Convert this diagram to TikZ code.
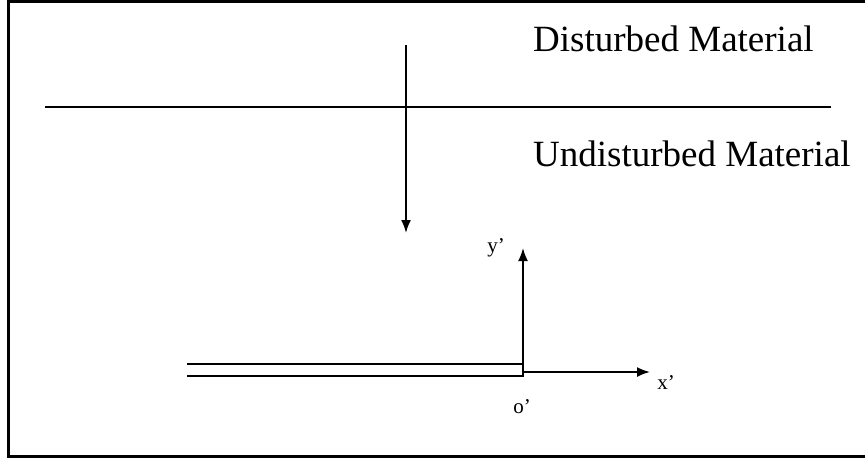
\documentclass[tikz,border=0pt]{standalone}
\usepackage{fontspec}
\setmainfont{Liberation Serif}
\usetikzlibrary{arrows.meta}
\begin{document}
\begin{tikzpicture}[x=1pt,y=-1pt,
  line/.style={line width=2pt,black},
  arr/.style={line width=1.8pt,-{Latex[length=13pt,width=10pt]}},
  big/.style={font=\fontsize{37}{44}\selectfont,inner sep=0pt,anchor=base west},
  small/.style={font=\fontsize{21}{25}\selectfont,inner sep=0pt}]
\useasboundingbox (0,0) rectangle (865,458);
% frame (right side outside image)
\draw[line width=3pt] (865,1.5) -- (8.5,1.5) -- (8.5,456.5) -- (865,456.5);
% interface
\coordinate (il) at (45,107);
\coordinate (ir) at (831,107);
\draw[line] (il) -- (ir);
\node[big] (dist) at (533,51) {Disturbed Material};
\node[big] (undist) at (533,166) {Undisturbed Material};
% downward arrow
\coordinate (a1) at (406,45);
\coordinate (a2) at (406,233);
\draw[arr] (a1) -- (a2);
% plate
\coordinate (o) at (523,372);
\coordinate (p1) at (187,364);
\coordinate (p2) at (523,364);
\coordinate (p3) at (523,376);
\coordinate (p4) at (187,376);
\draw[line width=2.6pt] (p1) -- (p2) -- (p3) -- (p4);
% axes
\coordinate (ytip) at (523,248);
\coordinate (xtip) at (650,372);
\draw[arr] (p2) -- (ytip);
\draw[arr] (o) -- (xtip);
\node[small] (ylab) at (496,248) {y'};
\node[small] (xlab) at (666,383) {x'};
\node[small] (olab) at (522,407) {o'};
\end{tikzpicture}
\end{document}
